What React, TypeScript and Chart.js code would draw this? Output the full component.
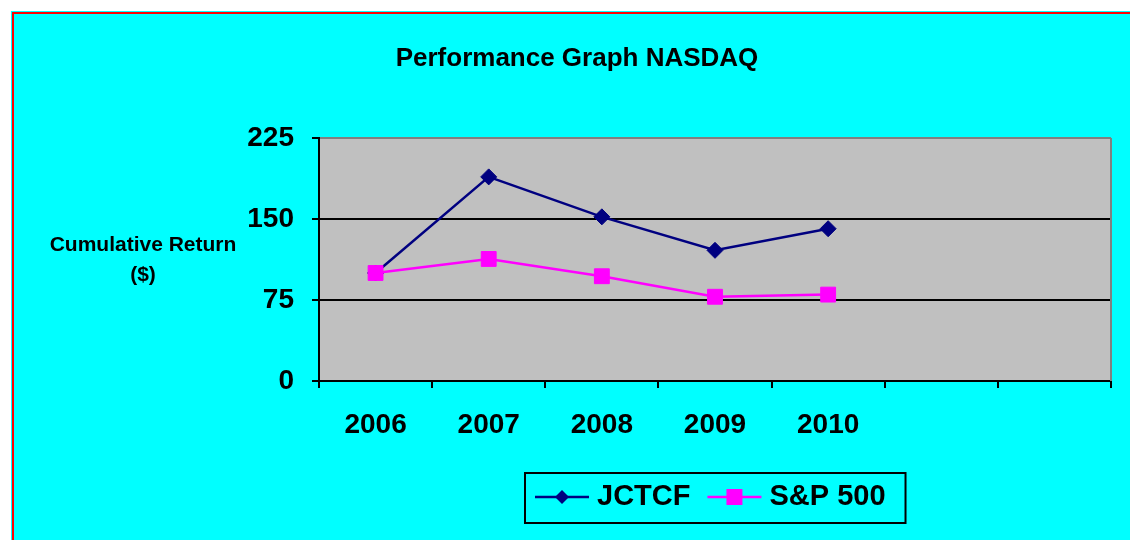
import React, { useEffect, useRef } from 'react';
import { Chart, registerables } from 'chart.js';

Chart.register(...registerables);

const FONT = "Arial, 'Liberation Sans', Helvetica, sans-serif";

const titleText = 'Performance Graph NASDAQ';
const yAxisTitleLines = ['Cumulative Return', '($)'];
const categories = ['2006', '2007', '2008', '2009', '2010', '', ''];
const seriesNames = ['JCTCF', 'S&P 500'];
const jctcfValues = [100, 189, 152, 121, 141, null, null];
const sp500Values = [100, 113, 97, 78, 80, null, null];
const yTickValues = [0, 75, 150, 225];

const NAVY = '#000080';
const MAGENTA = '#FF00FF';
const CANVAS_W = 1132;
const CANVAS_H = 529;

const framePlugin = {
  id: 'frame',
  beforeDraw(chart: any) {
    const { ctx, chartArea: a } = chart;
    ctx.save();
    ctx.fillStyle = '#00FFFF';
    ctx.fillRect(0, 0, chart.width, chart.height);
    ctx.strokeStyle = '#FF0000';
    ctx.lineWidth = 2;
    ctx.strokeRect(2, 2, chart.width + 20, chart.height + 20);
    ctx.fillStyle = '#C0C0C0';
    ctx.fillRect(a.left, a.top, a.right - a.left, a.bottom - a.top);
    ctx.restore();
  },
  afterDraw(chart: any) {
    const { ctx, chartArea: a } = chart;
    ctx.save();
    // right plot border
    ctx.strokeStyle = '#808080';
    ctx.lineWidth = 2;
    ctx.beginPath();
    ctx.moveTo(a.right, a.top);
    ctx.lineTo(a.right, a.bottom);
    ctx.stroke();

    // title, centred on the whole canvas
    ctx.fillStyle = '#000';
    ctx.font = `bold 26px ${FONT}`;
    ctx.textAlign = 'center';
    ctx.textBaseline = 'middle';
    ctx.fillText(titleText, chart.width / 2, 48);

    // horizontal y-axis title
    ctx.font = `bold 21px ${FONT}`;
    yAxisTitleLines.forEach((line, i) => {
      ctx.fillText(line, a.left - 176, a.top + 107 + i * 30);
    });

    // legend
    ctx.font = `bold 29px ${FONT}`;
    const padL = 10, padR = 20, lineLen = 54, gap = 8, itemGap = 17;
    const widths = seriesNames.map((n) => ctx.measureText(n).width);
    let boxW = padL + padR;
    widths.forEach((w, i) => {
      boxW += lineLen + gap + w + (i < widths.length - 1 ? itemGap : 0);
    });
    const boxH = 50;
    const cx = (a.left + a.right) / 2;
    const bx = Math.round(cx - boxW / 2);
    const by = a.bottom + 92;
    ctx.strokeStyle = '#000';
    ctx.lineWidth = 2;
    ctx.strokeRect(bx, by, boxW, boxH);
    const my = by + 24;
    let x = bx + padL;
    chart.data.datasets.forEach((ds: any, i: number) => {
      const color = ds.borderColor;
      ctx.strokeStyle = color;
      ctx.lineWidth = 2.5;
      ctx.beginPath();
      ctx.moveTo(x, my);
      ctx.lineTo(x + lineLen, my);
      ctx.stroke();
      const mx = x + lineLen / 2;
      ctx.fillStyle = color;
      if (ds.pointStyle === 'rectRot') {
        const r = 7;
        ctx.beginPath();
        ctx.moveTo(mx, my - r);
        ctx.lineTo(mx + r, my);
        ctx.lineTo(mx, my + r);
        ctx.lineTo(mx - r, my);
        ctx.closePath();
        ctx.fill();
      } else {
        ctx.fillRect(mx - 8, my - 8, 16, 16);
      }
      ctx.fillStyle = '#000';
      ctx.textAlign = 'left';
      ctx.textBaseline = 'middle';
      ctx.fillText(ds.label, x + lineLen + gap, my);
      x += lineLen + gap + widths[i] + itemGap;
    });
    ctx.restore();
  },
};

export default function App() {
  const ref = useRef<HTMLCanvasElement | null>(null);

  useEffect(() => {
    if (!ref.current) return;
    const chart = new Chart(ref.current, {
      type: 'line',
      data: {
        labels: categories,
        datasets: [
          {
            label: seriesNames[0],
            data: jctcfValues,
            borderColor: NAVY,
            backgroundColor: NAVY,
            borderWidth: 2.5,
            pointStyle: 'rectRot',
            pointRadius: 8,
            pointBorderWidth: 1,
            pointBorderColor: NAVY,
            pointBackgroundColor: NAVY,
            tension: 0,
            order: 1,
          } as any,
          {
            label: seriesNames[1],
            data: sp500Values,
            borderColor: MAGENTA,
            backgroundColor: MAGENTA,
            borderWidth: 2.5,
            pointStyle: 'rect',
            pointRadius: 10.5,
            pointBorderWidth: 1,
            pointBorderColor: MAGENTA,
            pointBackgroundColor: MAGENTA,
            tension: 0,
            order: 0,
          } as any,
        ],
      },
      options: {
        responsive: false,
        animation: false,
        events: [],
        layout: { padding: { left: 0, top: 127, right: 32, bottom: 89 } },
        plugins: {
          legend: { display: false },
          tooltip: { enabled: false },
          title: { display: false },
        },
        scales: {
          x: {
            type: 'category',
            offset: true,
            grid: {
              offset: true,
              drawOnChartArea: false,
              drawTicks: true,
              tickLength: 7,
              tickColor: '#000',
              tickWidth: 2,
              lineWidth: 2,
              color: '#000',
            },
            border: { display: true, color: '#000', width: 2 },
            ticks: {
              color: '#000',
              font: { family: FONT, size: 28, weight: 'bold' },
              padding: 20,
              maxRotation: 0,
              autoSkip: false,
            },
            afterFit(scale: any) {
              scale.height = 70;
            },
          },
          y: {
            min: yTickValues[0],
            max: yTickValues[yTickValues.length - 1],
            afterBuildTicks(scale: any) {
              scale.ticks = yTickValues.map((v) => ({ value: v }));
            },
            grid: {
              drawTicks: true,
              tickLength: 7,
              tickColor: '#000',
              tickWidth: 2,
              lineWidth: 2,
              color: (ctx: any) =>
                ctx.tick && ctx.tick.value === yTickValues[yTickValues.length - 1] ? '#808080' : '#000',
            },
            border: { display: true, color: '#000', width: 2 },
            ticks: {
              color: '#000',
              font: { family: FONT, size: 28, weight: 'bold' },
              padding: 18,
            },
            afterFit(scale: any) {
              scale.width = 308;
            },
          },
        },
      } as any,
      plugins: [framePlugin],
    });
    return () => chart.destroy();
  }, []);

  return (
    <div
      style={{
        position: 'fixed',
        left: 11,
        top: 11,
        width: 1130 - 11,
        height: 540 - 11,
        overflow: 'hidden',
      }}
    >
      <canvas ref={ref} width={CANVAS_W} height={CANVAS_H} style={{ display: 'block' }} />
    </div>
  );
}
